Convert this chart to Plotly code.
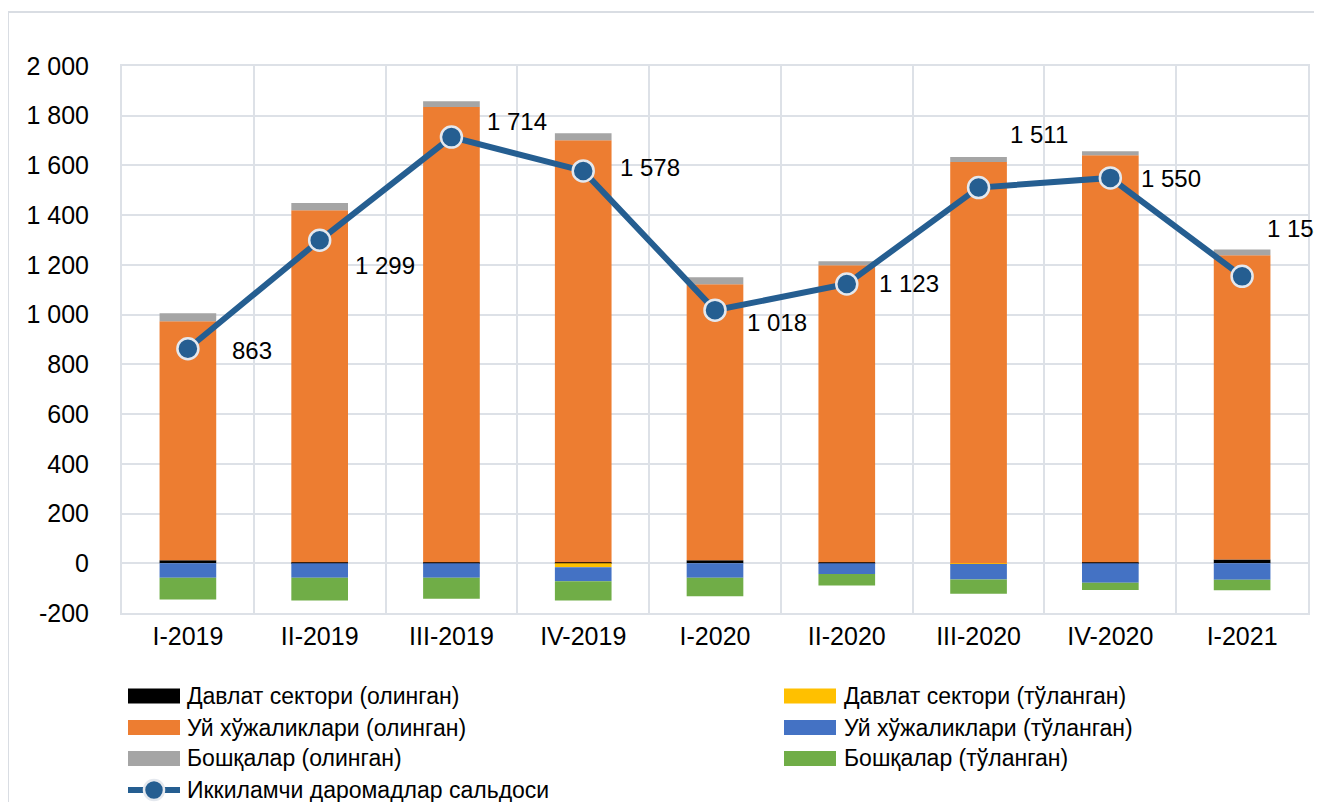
import plotly.graph_objects as go

# ---------------- data ----------------
categories = ["I-2019", "II-2019", "III-2019", "IV-2019", "I-2020",
              "II-2020", "III-2020", "IV-2020", "I-2021"]
gov_received = [12, 4, 4, 4, 12, 4, 0, 4, 15]
gov_paid = [0, 0, 0, -16, 0, 0, -3, 0, 0]
hh_received = [961, 1416, 1831, 1697, 1110, 1195, 1614, 1637, 1224]
hh_paid = [-58, -58, -58, -56, -58, -43, -62, -78, -66]
other_received = [33, 29, 23, 29, 28, 16, 20, 16, 23]
other_paid = [-88, -92, -85, -78, -75, -46, -58, -29, -43]
balance = [863, 1299, 1714, 1578, 1018, 1123, 1511, 1550, 1154]

y_tick_values = [-200, 0, 200, 400, 600, 800, 1000, 1200, 1400, 1600, 1800, 2000]
y_tick_labels = ["-200", "0", "200", "400", "600", "800", "1 000", "1 200",
                 "1 400", "1 600", "1 800", "2 000"]

names = ["Давлат сектори (олинган)", "Давлат сектори (тўланган)",
         "Уй хўжаликлари (олинган)", "Уй хўжаликлари (тўланган)",
         "Бошқалар (олинган)", "Бошқалар (тўланган)",
         "Иккиламчи даромадлар сальдоси"]
unit_text = "(млн. АҚШ доллари)"

# ---------------- style ----------------
colors = ["#000000", "#FFC000", "#ED7D31", "#4472C4", "#A5A5A5", "#70AD47"]
line_color = "#255E91"
grid_color = "#DDE1E7"
FONT = "Liberation Sans"
OFF = 8  # page body margin
W, H = 1322 - 2 * OFF, 810 - 2 * OFF
L, T = 122 - OFF, 66 - OFF
R = W - (1308 - OFF)
B = H - (613 - OFF)
pw, ph = W - L - R, H - T - B

def px(x):  # reference page pixel -> paper x
    return (x - OFF - L) / pw

def py(y):  # reference page pixel -> paper y
    return (H - B - (y - OFF)) / ph

# label offsets (pixels) relative to markers
label_offsets = [(64, -2), (65, -25), (66, 16), (67, 3), (62, -12),
                 (62, 1), (60, 53), (61, -1), (55, 48)]

series = [gov_received, gov_paid, hh_received, hh_paid, other_received, other_paid]

fig = go.Figure()
for vals, nm, col in zip(series, names[:6], colors):
    fig.add_trace(go.Bar(x=categories, y=vals, name=nm, marker_color=col,
                         marker_line_width=0, showlegend=False))

fig.add_trace(go.Scatter(
    x=categories, y=balance, name=names[6], mode="lines+markers",
    line=dict(color=line_color, width=6),
    marker=dict(size=21, color=line_color, line=dict(color="#E4E8EE", width=2.5)),
    showlegend=False))

annotations = []
for c, v, (dx, dy) in zip(categories, balance, label_offsets):
    annotations.append(dict(x=c, y=v, xref="x", yref="y",
                            text=f"{v:,}".replace(",", " "), showarrow=False,
                            xshift=dx, yshift=dy,
                            font=dict(family=FONT, size=24, color="#000000")))

shapes = []
# outer frame (only left and top edges are visible in the reference)
shapes.append(dict(type="line", xref="paper", yref="paper",
                   x0=px(8), x1=px(8), y0=py(900), y1=py(12),
                   line=dict(color="#D9DDE3", width=2), layer="below"))
shapes.append(dict(type="line", xref="paper", yref="paper",
                   x0=px(8), x1=px(1400), y0=py(12), y1=py(12),
                   line=dict(color="#D9DDE3", width=2), layer="below"))

# manual legend
leg_rows = [696, 727.5, 758.5, 790]
leg_cols = [(128, 180, 185), (784, 836, 842)]
for i, (nm, col) in enumerate(zip(names[:6], colors)):
    r, cidx = i // 2, i % 2
    x0, x1, xt = leg_cols[cidx]
    yc = leg_rows[r]
    shapes.append(dict(type="rect", xref="paper", yref="paper",
                       x0=px(x0), x1=px(x1), y0=py(yc + 7.5), y1=py(yc - 7.5),
                       fillcolor=col, line=dict(width=0)))
    annotations.append(dict(x=px(xt), y=py(yc), xref="paper", yref="paper",
                            text=nm, showarrow=False, xanchor="left", yanchor="middle",
                            font=dict(family=FONT, size=23, color="#000000")))
# line legend entry
yc = leg_rows[3]
shapes.append(dict(type="line", xref="paper", yref="paper",
                   x0=px(128), x1=px(180), y0=py(yc), y1=py(yc),
                   line=dict(color=line_color, width=6)))
shapes.append(dict(type="circle", xref="paper", yref="paper",
                   x0=px(144), x1=px(164), y0=py(yc + 10), y1=py(yc - 10),
                   fillcolor=line_color, line=dict(color="#E4E8EE", width=2.5)))
annotations.append(dict(x=px(185), y=py(yc), xref="paper", yref="paper",
                        text=names[6], showarrow=False, xanchor="left", yanchor="middle",
                        font=dict(family=FONT, size=23, color="#000000")))
# unit text (top right, mostly cut off as in the reference)
annotations.append(dict(x=px(1314), y=py(10), xref="paper", yref="paper",
                        text=unit_text, showarrow=False, xanchor="right", yanchor="bottom",
                        font=dict(family=FONT, size=20, color="#000000")))

fig.update_layout(
    width=W, height=H,
    margin=dict(l=L, r=R, t=T, b=B, autoexpand=False),
    barmode="relative", bargap=0.57,
    plot_bgcolor="white", paper_bgcolor="white",
    font=dict(family=FONT, size=25, color="#000000"),
    annotations=annotations, shapes=shapes,
    showlegend=False,
)
fig.update_xaxes(type="category", tickson="boundaries", showgrid=True,
                 gridcolor=grid_color, gridwidth=2, ticks="",
                 showline=True, mirror=True, linecolor=grid_color, linewidth=2,
                 range=[-0.5, len(categories) - 0.5],
                 tickfont=dict(family=FONT, size=25, color="#000000"))
fig.update_yaxes(range=[-200, 2000], tickmode="array",
                 tickvals=y_tick_values, ticktext=y_tick_labels,
                 showgrid=True, gridcolor=grid_color, gridwidth=2,
                 zeroline=True, zerolinecolor=grid_color, zerolinewidth=2,
                 showline=True, mirror=True, linecolor=grid_color, linewidth=2,
                 ticks="", ticklabelstandoff=26,
                 tickfont=dict(family=FONT, size=25, color="#000000"))

fig.write_html("out.html")
